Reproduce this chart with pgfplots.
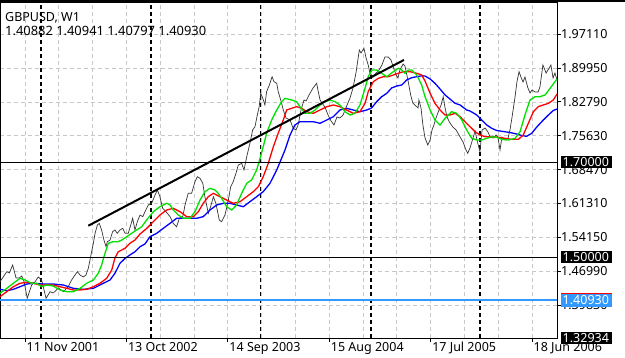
\documentclass[border=0pt]{standalone}
\usepackage{fontspec}
\setmainfont{Noto Sans}
\usepackage{pgfplots}
\pgfplotsset{compat=1.18}
\usepackage{pgfplotstable}

\definecolor{mtgreen}{RGB}{0,225,0}
\definecolor{mtred}{RGB}{255,0,0}
\definecolor{mtblue}{RGB}{0,0,255}
\definecolor{bidblue}{RGB}{51,153,255}
\definecolor{gridgray}{RGB}{200,200,200}
\newcommand{\lblfont}{\fontsize{12.5}{14}\selectfont}

\pgfplotstableread{
w v
0 1.4480
1.6 1.4585
3.2 1.4691
4.4 1.4664
6.0 1.4832
7.6 1.4558
9.1 1.4558
10.3 1.4600
11.4 1.4480
12.9 1.4129
15.0 1.4410
16.6 1.4480
18.1 1.4579
19.7 1.4516
21.8 1.4129
23.7 1.4269
25.2 1.4241
27.6 1.4347
30.0 1.4269
32.3 1.4374
33.9 1.4516
35.5 1.4621
36.6 1.4691
37.9 1.4621
39.4 1.4579
40.7 1.4621
41.8 1.4763
42.9 1.5008
44.2 1.5291
45.0 1.5502
46.1 1.5677
47.0 1.5713
48.1 1.5572
49.2 1.5360
50.2 1.5219
50.8 1.5325
52.1 1.5360
53.3 1.5536
54.4 1.5572
55.5 1.5502
56.8 1.5572
58.1 1.5608
59.2 1.5502
60.7 1.5502
61.9 1.5677
62.8 1.5819
63.9 1.5572
65.0 1.5747
66.3 1.5888
67.6 1.5852
68.6 1.5958
70.2 1.6100
71.8 1.6135
73.4 1.6311
74.5 1.6416
75.7 1.6275
77.0 1.6030
78.6 1.5958
80.5 1.5853
82.0 1.5713
83.6 1.5641
84.9 1.5819
86.5 1.5852
87.6 1.6100
89.1 1.6347
90.7 1.6347
92.3 1.6592
93.4 1.6697
94.7 1.6663
96.0 1.6558
97.0 1.6275
98.6 1.5924
99.7 1.6064
101.0 1.6275
102.2 1.6135
103.8 1.5783
104.9 1.5747
106.5 1.5888
108.1 1.6205
109.2 1.6486
110.4 1.6592
111.7 1.6769
112.8 1.6944
114.4 1.6980
115.5 1.6839
116.8 1.7120
118.3 1.7403
119.6 1.7684
120.7 1.7753
121.8 1.8000
122.7 1.8176
123.4 1.8459
124.4 1.8353
125.4 1.8212
126.2 1.8492
127.5 1.8634
128.8 1.8809
129.7 1.8704
131.0 1.8670
131.7 1.8492
132.9 1.8317
134.1 1.8106
135.4 1.7937
137.3 1.7895
138.7 1.7726
140.1 1.7684
141.1 1.7789
142.5 1.8106
143.9 1.8317
144.9 1.8296
146.3 1.8423
148.2 1.8571
149.9 1.8670
150.5 1.8528
151.5 1.8317
152.4 1.8254
153.8 1.8169
155.3 1.8000
156.7 1.7874
158.1 1.7789
159.5 1.7958
160.9 1.7937
162.4 1.8000
164.3 1.8212
165.7 1.8359
167.1 1.8571
168.5 1.8887
170.1 1.9373
170.9 1.9310
172.3 1.9409
173.3 1.9204
174.3 1.9056
175.1 1.8887
176.6 1.8803
178.0 1.8887
179.4 1.8951
180.8 1.9056
182.2 1.9225
183.7 1.9225
185.1 1.9162
186.0 1.9035
187.5 1.8845
188.4 1.8782
189.3 1.8951
190.8 1.9077
191.7 1.9035
193.1 1.8739
194.4 1.8423
195.4 1.8254
196.4 1.8212
197.9 1.8148
198.3 1.8317
199.3 1.8148
200.2 1.7789
201.2 1.7515
202.5 1.7367
203.6 1.7472
204.5 1.7683
205.4 1.7789
206.4 1.7937
207.5 1.8070
208.8 1.8212
209.8 1.8387
210.7 1.8148
211.6 1.7958
213.0 1.7831
214.4 1.7747
215.9 1.7684
217.8 1.7536
219.2 1.7430
220.6 1.7261
221.4 1.7191
222.5 1.7303
223.9 1.7515
224.9 1.7662
225.8 1.7472
227.2 1.7225
228.2 1.7684
229.6 1.7726
231.0 1.7641
232.0 1.7536
233.4 1.7515
234.8 1.7578
235.7 1.7536
236.7 1.7261
237.6 1.7536
239.1 1.7472
240.5 1.7515
241.4 1.7684
242.4 1.7958
243.8 1.8380
244.7 1.8697
245.7 1.8915
246.6 1.8803
247.6 1.8697
248.5 1.8803
249.9 1.8571
250.9 1.8465
251.8 1.8528
253.3 1.8486
254.7 1.8486
255.6 1.8592
257.0 1.9056
258.5 1.8887
259.4 1.8951
260.8 1.9056
261.8 1.8782
262.7 1.8887
263.7 1.8739
}\price

\pgfplotstableread{
w v
0 1.4235
3.2 1.4340
6.3 1.4446
9.5 1.4552
11.8 1.4516
15.0 1.4446
17.4 1.4446
19.7 1.4374
22.1 1.4410
25.2 1.4389
28.4 1.4305
31.6 1.4269
34.7 1.4269
37.9 1.4340
41.0 1.4446
44.2 1.4516
46.5 1.4657
48.1 1.4832
49.7 1.5080
51.3 1.5291
53.6 1.5325
56.0 1.5325
57.6 1.5360
60.0 1.5430
62.3 1.5502
64.7 1.5572
67.1 1.5641
69.4 1.5783
72.6 1.5958
75.7 1.6064
78.9 1.6135
80.5 1.6100
82.0 1.5994
84.4 1.5888
86.8 1.5819
89.9 1.5819
92.3 1.5958
94.7 1.6205
97.0 1.6381
99.4 1.6452
101.8 1.6416
103.3 1.6347
104.9 1.6241
107.3 1.6064
109.7 1.5994
112.0 1.6100
114.4 1.6347
116.8 1.6558
119.1 1.6628
121.5 1.6839
123.1 1.7086
124.6 1.7331
126.2 1.7614
128.6 1.7895
131.0 1.8106
133.3 1.8281
134.9 1.8353
138.1 1.8317
140.4 1.8281
142.0 1.8176
144.4 1.8036
146.7 1.8036
149.1 1.8106
151.5 1.8212
153.8 1.8281
156.2 1.8317
158.6 1.8281
160.9 1.8212
163.3 1.8070
165.7 1.8000
168.0 1.8036
170.4 1.8212
172.8 1.8564
174.3 1.8809
176.0 1.8951
178.3 1.8951
180.7 1.8881
183.1 1.8809
186.2 1.8915
188.5 1.8987
190.2 1.8951
191.7 1.8881
193.3 1.8951
194.9 1.8951
197.3 1.8845
199.6 1.8634
201.2 1.8387
203.6 1.8106
205.9 1.7895
208.3 1.7789
210.7 1.7931
213.8 1.8070
216.2 1.8036
218.6 1.7895
220.9 1.7684
223.3 1.7508
225.7 1.7472
228.0 1.7472
230.4 1.7508
232.8 1.7542
235.1 1.7529
237.5 1.7487
240.6 1.7472
243.8 1.7508
246.2 1.7648
248.5 1.8000
250.9 1.8317
253.3 1.8387
255.6 1.8387
258.0 1.8423
260.4 1.8564
262.7 1.8704
263.7 1.8761
}\greenma

\pgfplotstableread{
w v
0 1.4163
3.2 1.4269
6.3 1.4374
9.5 1.4446
12.6 1.4467
15.8 1.4446
18.9 1.4410
22.1 1.4410
25.2 1.4410
28.4 1.4374
31.6 1.4340
34.7 1.4305
37.9 1.4305
41.0 1.4319
44.2 1.4374
47.3 1.4446
50.5 1.4552
52.9 1.4727
54.4 1.4980
56.0 1.5113
59.2 1.5185
61.5 1.5291
63.9 1.5360
66.3 1.5487
69.4 1.5603
72.6 1.5747
75.7 1.5888
78.9 1.5994
82.0 1.6030
85.2 1.5958
88.4 1.5853
91.5 1.5853
93.9 1.5958
96.2 1.6135
98.6 1.6275
101.0 1.6347
104.1 1.6275
107.3 1.6205
110.4 1.6135
113.6 1.6169
116.8 1.6275
119.9 1.6381
122.3 1.6486
124.6 1.6697
127.0 1.6980
129.4 1.7331
131.7 1.7614
134.1 1.7895
135.7 1.8106
138.1 1.8142
140.4 1.8176
142.8 1.8142
145.2 1.8070
148.3 1.8036
151.5 1.8106
154.7 1.8176
157.8 1.8212
160.9 1.8176
164.1 1.8106
167.2 1.8036
170.4 1.8070
172.8 1.8247
174.3 1.8492
176.7 1.8704
179.1 1.8775
181.4 1.8809
183.8 1.8809
186.2 1.8845
188.5 1.8881
190.9 1.8915
194.1 1.8915
197.3 1.8881
199.6 1.8845
201.2 1.8718
203.6 1.8459
205.9 1.8247
208.3 1.8106
210.7 1.8000
213.0 1.8000
215.4 1.8036
217.8 1.7964
220.1 1.7859
222.5 1.7753
224.9 1.7648
227.2 1.7578
229.6 1.7542
232.8 1.7542
235.9 1.7529
239.1 1.7508
242.2 1.7487
245.4 1.7487
247.7 1.7578
250.1 1.7825
252.5 1.8070
254.8 1.8176
257.2 1.8212
259.6 1.8247
261.9 1.8317
263.7 1.8444
}\redma

\pgfplotstableread{
w v
0 1.4319
3.2 1.4290
6.3 1.4319
9.5 1.4374
12.6 1.4431
15.8 1.4446
20.5 1.4431
25.2 1.4431
30.0 1.4410
34.7 1.4340
39.4 1.4319
44.2 1.4340
48.9 1.4446
52.1 1.4516
54.4 1.4657
56.8 1.4868
59.2 1.4974
61.5 1.5044
63.9 1.5113
66.3 1.5219
68.6 1.5276
71.0 1.5430
74.2 1.5502
77.3 1.5608
80.5 1.5713
83.6 1.5819
86.8 1.5819
89.9 1.5819
93.1 1.5819
96.2 1.5853
99.4 1.5994
102.6 1.6100
105.7 1.6135
108.9 1.6135
112.0 1.6100
115.2 1.6064
118.3 1.6169
121.5 1.6275
124.6 1.6381
127.8 1.6558
131.0 1.6839
133.3 1.7086
134.9 1.7261
137.3 1.7578
139.6 1.7789
142.0 1.7859
145.2 1.7859
148.3 1.7859
151.5 1.7825
154.7 1.7895
157.8 1.7964
160.9 1.8106
164.1 1.8142
167.2 1.8106
170.4 1.8070
173.6 1.8106
175.9 1.8148
178.3 1.8281
180.7 1.8387
183.1 1.8459
185.4 1.8571
187.8 1.8613
190.2 1.8634
192.5 1.8740
194.9 1.8788
197.3 1.8809
199.6 1.8828
201.2 1.8824
203.6 1.8761
205.9 1.8670
208.3 1.8549
210.7 1.8423
213.0 1.8338
215.4 1.8247
217.8 1.8212
220.9 1.8106
222.5 1.8085
225.7 1.8000
228.0 1.7895
230.4 1.7789
232.8 1.7719
235.1 1.7673
238.2 1.7652
241.4 1.7631
244.6 1.7599
247.0 1.7567
249.3 1.7550
251.7 1.7614
254.1 1.7747
257.2 1.7895
259.6 1.8000
261.9 1.8095
263.7 1.8127
}\bluema

\begin{document}
\begin{tikzpicture}
\path[use as bounding box] (0pt,0pt) rectangle (625pt,358pt);
\begin{axis}[
  at={(0pt,20pt)}, anchor=south west,
  scale only axis, width=557pt, height=336pt,
  xmin=0, xmax=263.67, ymin=1.3291, ymax=2.0387,
  clip mode=individual,
  axis line style={black, line width=0.8pt},
  tick align=outside, major tick length=4pt, minor tick length=0pt,
  xtick pos=left, ytick pos=right,
  yticklabel pos=right,
  xtick={11.83,59.83,107.83,155.83,203.83,251.83},
  xticklabels={11 Nov 2001, 13 Oct 2002, 14 Sep 2003, 15 Aug 2004, 17 Jul 2005, 18 Jun 2006},
  minor xtick={27.83,43.83,75.83,91.83,123.83,139.83,171.83,187.83,219.83,235.83},
  ytick={1.3983,1.4699,1.5415,1.6131,1.6847,1.7563,1.8279,1.8995,1.9711},
  yticklabels={1.39830,1.46990,1.54150,1.61310,1.68470,1.75630,1.82790,1.89950,1.97110},
  xmajorgrids, xminorgrids, ymajorgrids,
  grid style={gridgray, dash pattern=on 4pt off 3pt, line width=0.6pt},
  major tick style={black, line width=0.8pt},
  tick label style={font=\lblfont, black},
  xticklabel style={anchor=north west, inner sep=0pt, xshift=1.5pt},
  yticklabel style={anchor=west, inner sep=0pt},
  extra x ticks={19.4,71.5,123.5,175.6,227.2},
  extra x tick labels={},
  extra x tick style={grid style={black, dash pattern=on 4pt off 3pt, line width=1.2pt}, major tick length=0pt},
]
\addplot[black!80, line width=0.7pt] table[x=w, y=v] {\price};
\addplot[mtblue, line width=1.3pt] table[x=w, y=v] {\bluema};
\addplot[mtred, line width=1.3pt] table[x=w, y=v] {\redma};
\addplot[mtgreen, line width=1.3pt] table[x=w, y=v] {\greenma};
\addplot[black, line width=0.9pt] coordinates {(0,1.70) (263.67,1.70)};
\addplot[black, line width=0.9pt] coordinates {(0,1.50) (263.67,1.50)};
\addplot[mtred, line width=1pt] coordinates {(0,1.4112) (263.67,1.4112)};
\addplot[bidblue, line width=1.2pt] coordinates {(0,1.4093) (263.67,1.4093)};
\addplot[black, line width=2pt] coordinates {(41.8,1.5662) (191.2,1.9162)};

\coordinate (b170) at (axis cs:263.67,1.70);
\coordinate (b150) at (axis cs:263.67,1.50);
\coordinate (bask) at (axis cs:263.67,1.4112);
\coordinate (bbid) at (axis cs:263.67,1.4093);
\coordinate (bmin) at (axis cs:263.67,1.3291);

\node[anchor=base west, inner sep=0pt, font=\lblfont] at ([xshift=5pt,yshift=-19.7pt]rel axis cs:0,1) {GBPUSD, W1};
\node[anchor=base west, inner sep=0pt, font=\fontsize{12.9}{14}\selectfont] at ([xshift=5pt,yshift=-33.5pt]rel axis cs:0,1) {1.40882 1.40941 1.40797 1.40930};
\end{axis}
\fill[black] ([xshift=3.5pt,yshift=-6pt]b170) rectangle ([xshift=54.5pt,yshift=6pt]b170);
\node[anchor=west, inner sep=0pt, text=white, font=\lblfont] at ([xshift=5.5pt]b170) {1.70000};
\fill[black] ([xshift=3.5pt,yshift=-6pt]b150) rectangle ([xshift=54.5pt,yshift=6pt]b150);
\node[anchor=west, inner sep=0pt, text=white, font=\lblfont] at ([xshift=5.5pt]b150) {1.50000};
\fill[mtred] ([xshift=3.5pt,yshift=-6pt]bask) rectangle ([xshift=54.5pt,yshift=6pt]bask);
\fill[bidblue] ([xshift=3.5pt,yshift=-7pt]bbid) rectangle ([xshift=54.5pt,yshift=6pt]bbid);
\node[anchor=west, inner sep=0pt, text=white, font=\lblfont] at ([xshift=5.5pt]bbid) {1.40930};
\fill[black] ([xshift=3.5pt,yshift=-6pt]bmin) rectangle ([xshift=54.5pt,yshift=6pt]bmin);
\node[anchor=west, inner sep=0pt, text=white, font=\lblfont] at ([xshift=5.5pt]bmin) {1.32934};
\fill[black] (0pt,356pt) rectangle (625pt,358pt);
\end{tikzpicture}
\end{document}
